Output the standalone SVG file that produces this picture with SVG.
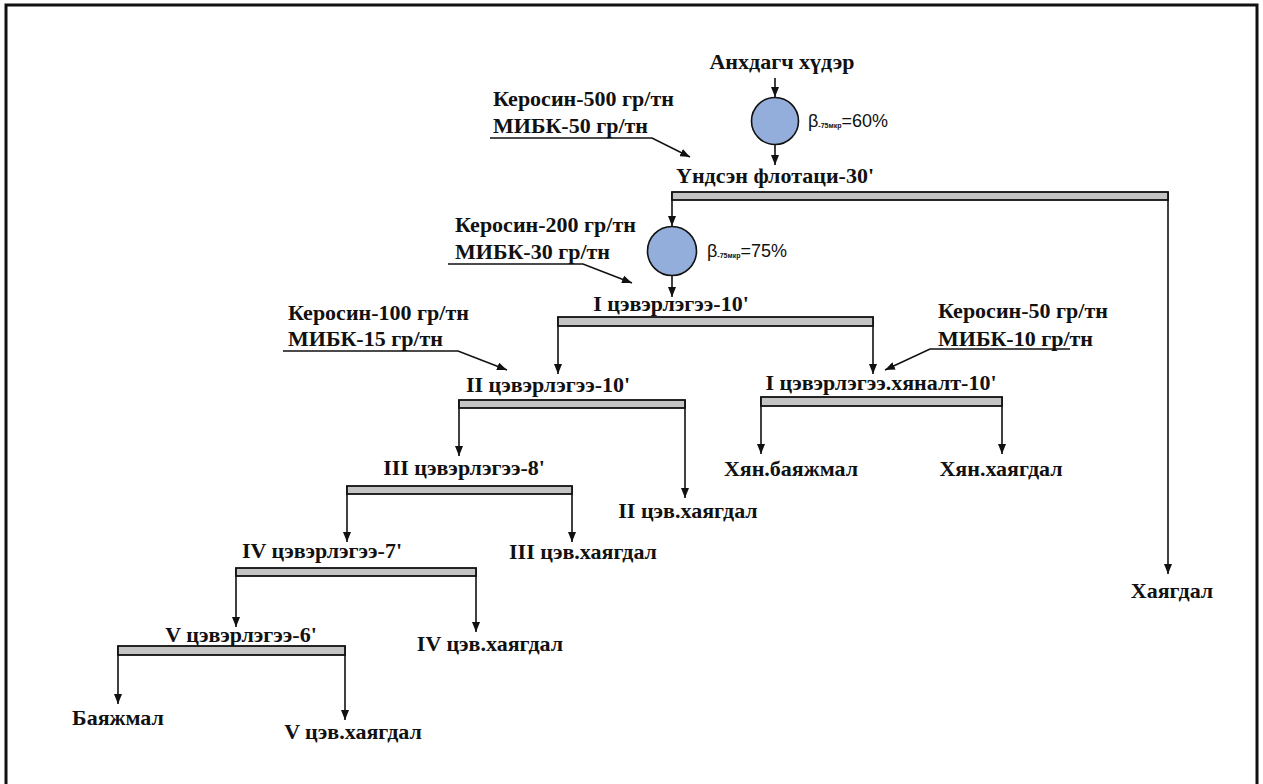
<svg xmlns="http://www.w3.org/2000/svg" width="1263" height="784" viewBox="0 0 1263 784">
<style>
.t{font-family:"Liberation Serif","Times New Roman",serif;font-weight:bold;font-size:22px;fill:#111}
.m{text-anchor:middle}
.sub{font-family:"Liberation Sans",Arial,sans-serif;font-size:7px;font-weight:bold;fill:#111}
.b{font-family:"Liberation Sans",Arial,sans-serif;font-size:18px;fill:#111}
.ln{fill:none;stroke:#111;stroke-width:1.6}
.bar{fill:#c4c4c4;stroke:#111;stroke-width:1.8}
.cir{fill:#93aedb;stroke:#111;stroke-width:1.6}
</style>
<defs>
<marker id="ah" markerUnits="userSpaceOnUse" markerWidth="10" markerHeight="8" refX="10" refY="4" orient="auto">
<path d="M0,0 L10,4 L0,8 z" fill="#111"/>
</marker>
</defs>
<rect x="0" y="0" width="1263" height="784" fill="#fff"/>
<path d="M6,790 V5 H1257 V790" fill="none" stroke="#111" stroke-width="3"/>

<g id="connectors">
<line class="ln" x1="775" y1="78" x2="775" y2="97" marker-end="url(#ah)"/>
<line class="ln" x1="775" y1="144" x2="775" y2="165" marker-end="url(#ah)"/>
<polyline class="ln" points="490,138 652,138 690,157" marker-end="url(#ah)"/>
<line class="ln" x1="1168" y1="192" x2="1168" y2="574" marker-end="url(#ah)"/>
<line class="ln" x1="672" y1="192" x2="672" y2="226" marker-end="url(#ah)"/>
<line class="ln" x1="672" y1="276" x2="672" y2="297" marker-end="url(#ah)"/>
<polyline class="ln" points="448,264 583,264 632,283" marker-end="url(#ah)"/>
<line class="ln" x1="558" y1="317" x2="558" y2="374" marker-end="url(#ah)"/>
<line class="ln" x1="873" y1="317" x2="873" y2="374" marker-end="url(#ah)"/>
<polyline class="ln" points="283,351 458,351 507,370" marker-end="url(#ah)"/>
<polyline class="ln" points="1070,349 930,349 885,370" marker-end="url(#ah)"/>
<line class="ln" x1="459" y1="400" x2="459" y2="456" marker-end="url(#ah)"/>
<line class="ln" x1="685" y1="400" x2="685" y2="498" marker-end="url(#ah)"/>
<line class="ln" x1="761" y1="397" x2="761" y2="454" marker-end="url(#ah)"/>
<line class="ln" x1="1002" y1="397" x2="1002" y2="454" marker-end="url(#ah)"/>
<line class="ln" x1="347" y1="486" x2="347" y2="542" marker-end="url(#ah)"/>
<line class="ln" x1="572" y1="486" x2="572" y2="542" marker-end="url(#ah)"/>
<line class="ln" x1="236" y1="568" x2="236" y2="627" marker-end="url(#ah)"/>
<line class="ln" x1="476" y1="568" x2="476" y2="632" marker-end="url(#ah)"/>
<line class="ln" x1="118" y1="646" x2="118" y2="704" marker-end="url(#ah)"/>
<line class="ln" x1="345" y1="646" x2="345" y2="720" marker-end="url(#ah)"/>
</g>

<g id="feed"><text class="t m" x="782" y="69">Анхдагч хүдэр</text></g>

<g id="grind1">
<circle class="cir" cx="775" cy="121" r="23.5"/>
<text class="b" x="808" y="127">β<tspan class="sub" dy="1">-75мкр</tspan><tspan dy="-1">=60%</tspan></text>
</g>

<g id="reagent1">
<text class="t" x="493" y="106">Керосин-500 гр/тн</text>
<text class="t" x="493" y="133">МИБК-50 гр/тн</text>
</g>

<g id="main-flot">
<text class="t m" x="775" y="183">Үндсэн флотаци-30'</text>
<rect class="bar" x="672" y="192" width="496" height="8"/>
</g>

<g id="tail"><text class="t m" x="1172" y="598">Хаягдал</text></g>

<g id="grind2">
<circle class="cir" cx="672" cy="251" r="24.5"/>
<text class="b" x="707" y="257">β<tspan class="sub" dy="1">-75мкр</tspan><tspan dy="-1">=75%</tspan></text>
</g>

<g id="reagent2">
<text class="t" x="455" y="232">Керосин-200 гр/тн</text>
<text class="t" x="455" y="259">МИБК-30 гр/тн</text>
</g>

<g id="clean1">
<text class="t m" x="671" y="311">I цэвэрлэгээ-10'</text>
<rect class="bar" x="558" y="317" width="315" height="9"/>
</g>

<g id="reagent3">
<text class="t" x="288" y="320">Керосин-100 гр/тн</text>
<text class="t" x="288" y="346">МИБК-15 гр/тн</text>
</g>

<g id="reagent4">
<text class="t" x="938" y="318">Керосин-50 гр/тн</text>
<text class="t" x="938" y="346">МИБК-10 гр/тн</text>
</g>

<g id="clean2">
<text class="t m" x="548" y="392">II цэвэрлэгээ-10'</text>
<rect class="bar" x="459" y="400" width="226" height="8"/>
</g>

<g id="control">
<text class="t m" x="881" y="390">I цэвэрлэгээ.хяналт-10'</text>
<rect class="bar" x="761" y="397" width="241" height="9"/>
</g>

<g id="ctrl-conc"><text class="t m" x="791" y="476">Хян.баяжмал</text></g>
<g id="ctrl-tail"><text class="t m" x="1001" y="476">Хян.хаягдал</text></g>

<g id="clean3">
<text class="t m" x="464" y="475">III цэвэрлэгээ-8'</text>
<rect class="bar" x="347" y="486" width="225" height="8"/>
</g>

<g id="tail2"><text class="t m" x="688" y="518">II цэв.хаягдал</text></g>

<g id="clean4">
<text class="t m" x="322" y="558">IV цэвэрлэгээ-7'</text>
<rect class="bar" x="236" y="568" width="240" height="8"/>
</g>

<g id="tail3"><text class="t m" x="583" y="559">III цэв.хаягдал</text></g>

<g id="clean5">
<text class="t m" x="241" y="642">V цэвэрлэгээ-6'</text>
<rect class="bar" x="118" y="646" width="227" height="9"/>
</g>

<g id="tail4"><text class="t m" x="490" y="651">IV цэв.хаягдал</text></g>

<g id="conc"><text class="t m" x="118" y="725">Баяжмал</text></g>
<g id="tail5"><text class="t m" x="353" y="739">V цэв.хаягдал</text></g>
</svg>
